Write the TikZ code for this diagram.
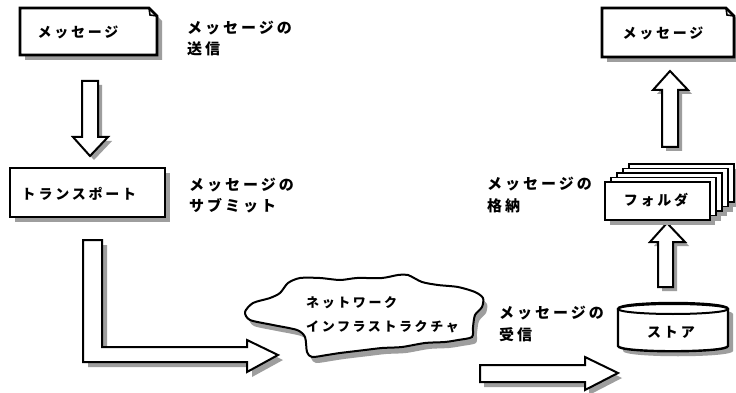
\documentclass[tikz,border=0pt]{standalone}
\usepackage{fontspec}
\newfontfamily\jp[LetterSpace=20]{Noto Sans CJK JP}
\tikzset{
  shad/.style={fill=black!38, draw=none},
  boxf/.style={fill=white, draw=black, line width=2.6pt, line join=miter},
  arrf/.style={fill=white, draw=black, line width=2pt, line join=miter},
  jtxt/.style={font=\jp\bfseries\fontsize{14}{14}\selectfont, inner sep=0pt},
  ctxt/.style={font=\jp\bfseries\fontsize{13}{13}\selectfont, inner sep=0pt, anchor=west},
  lbl/.style={font=\jp\bfseries\fontsize{15}{15}\selectfont, inner sep=0pt, anchor=west},
}
\newcommand\msgLeft[1]{\path[#1] (20,8) -- (149,8) -- (157,16) -- (157,55) -- (20,55) -- cycle;}
\newcommand\msgRight[1]{\path[#1] (602,8) -- (726,8) -- (734,16) -- (734,57) -- (602,57) -- cycle;}
\newcommand\arrDown[1]{\path[#1] (82,81) -- (98,81) -- (98,137) -- (108,137) -- (90,156) -- (73,137) -- (82,137) -- cycle;}
\newcommand\arrL[1]{\path[#1] (83,240) -- (102,240) -- (102,347) -- (247,347) -- (247,340) -- (278,355) -- (247,372) -- (247,362) -- (83,362) -- cycle;}
\newcommand\arrRight[1]{\path[#1] (480,365) -- (585,365) -- (585,357) -- (618,373) -- (585,390) -- (585,382) -- (480,382) -- cycle;}
\newcommand\arrUpA[1]{\path[#1] (658,287) -- (658,242) -- (650,242) -- (667,223) -- (685,242) -- (673,242) -- (673,287) -- cycle;}
\newcommand\arrUpB[1]{\path[#1] (662,147) -- (662,90) -- (653,90) -- (670,71) -- (688,90) -- (678,90) -- (678,147) -- cycle;}
\newcommand\cloud[1]{\path[#1] plot[smooth cycle, tension=0.45] coordinates {
  (245,312) (253,303) (270,298) (280,293) (288,283) (300,278) (320,278) (340,280)
  (357,278) (382,278) (398,275) (408,275) (422,282) (438,285) (458,287) (475,292)
  (483,298) (482,307) (475,315) (473,327) (472,337) (458,340) (445,342) (425,343)
  (402,347) (382,348) (365,350) (340,353) (327,355) (312,357) (307,352) (305,337)
  (297,330) (273,325) (250,320)};}
\newcommand\cyl[1]{\path[#1] (618,309) -- (618,346) .. controls (618,353) and (728,353) .. (728,346) -- (728,309) .. controls (728,301) and (618,301) .. cycle;}
\begin{document}
\begin{tikzpicture}[x=1pt,y=-1pt]
\path[use as bounding box] (0,0) rectangle (736,393);
\fill[white] (0,0) rectangle (736,393);
\clip (0,0) rectangle (736,393);

% --- left column ---
\msgLeft{shad,shift={(5,5)}}
\msgLeft{boxf}
\draw[line width=1.6pt] (149,8) -- (150,15) -- (157,16);
\node[jtxt] (msgA) at (78,32) {メッセージ};

\arrDown{shad,shift={(4,4)}}
\arrDown{arrf}

\fill[shad] (15,173) rectangle (170,222);
\node[boxf, minimum width=155pt, minimum height=49pt, inner sep=0pt] (trans) at (87.5,192.5) {};
\node[jtxt] (transT) at (79,194) {トランスポート};

\arrL{shad,shift={(5,5)}}
\arrL{arrf}

% --- labels ---
\node[lbl] (l1a) at (187,28) {メッセージの};
\node[lbl] (l1b) at (187,49) {送信};
\node[lbl] (l2a) at (189,185) {メッセージの};
\node[lbl] (l2b) at (189,206) {サブミット};
\node[lbl] (l3a) at (487,184) {メッセージの};
\node[lbl] (l3b) at (487,206) {格納};
\node[lbl] (l4a) at (499,313) {メッセージの};
\node[lbl] (l4b) at (499,335) {受信};

% --- cloud ---
\cloud{shad,shift={(4,6)}}
\cloud{fill=white,draw=black,line width=2pt}
\node[ctxt] (net1) at (306,303) {ネットワーク};
\node[ctxt] (net2) at (306,327) {インフラストラクチャ};

% --- right column ---
\arrRight{shad,shift={(4,5)}}
\arrRight{arrf}

\cyl{shad,shift={(5,5)}}
\cyl{fill=white,draw=black,line width=2.4pt}
\draw[line width=2pt, fill=white] (673,309) ellipse[x radius=55, y radius=5];
\node[jtxt] (store) at (671,332) {ストア};

\arrUpA{shad,shift={(4,4)}}
\arrUpA{arrf}

\foreach \k in {4,3,2,1,0} {\fill[shad] (610+6*\k,187-4.5*\k) rectangle (715+6*\k,225-4.5*\k);}
\foreach \k in {4,3,2,1} {\draw[fill=white,line width=1.8pt] (605+6*\k,182-4.5*\k) rectangle (710+6*\k,220-4.5*\k);}
\draw[boxf] (605,182) rectangle (710,220);
\node[jtxt] (folder) at (656,200) {フォルダ};

\arrUpB{shad,shift={(4,4)}}
\arrUpB{arrf}

\msgRight{shad,shift={(5,5)}}
\msgRight{boxf}
\draw[line width=1.6pt] (726,8) -- (727,15) -- (734,16);
\node[jtxt] (msgB) at (663,33) {メッセージ};
\end{tikzpicture}
\end{document}
